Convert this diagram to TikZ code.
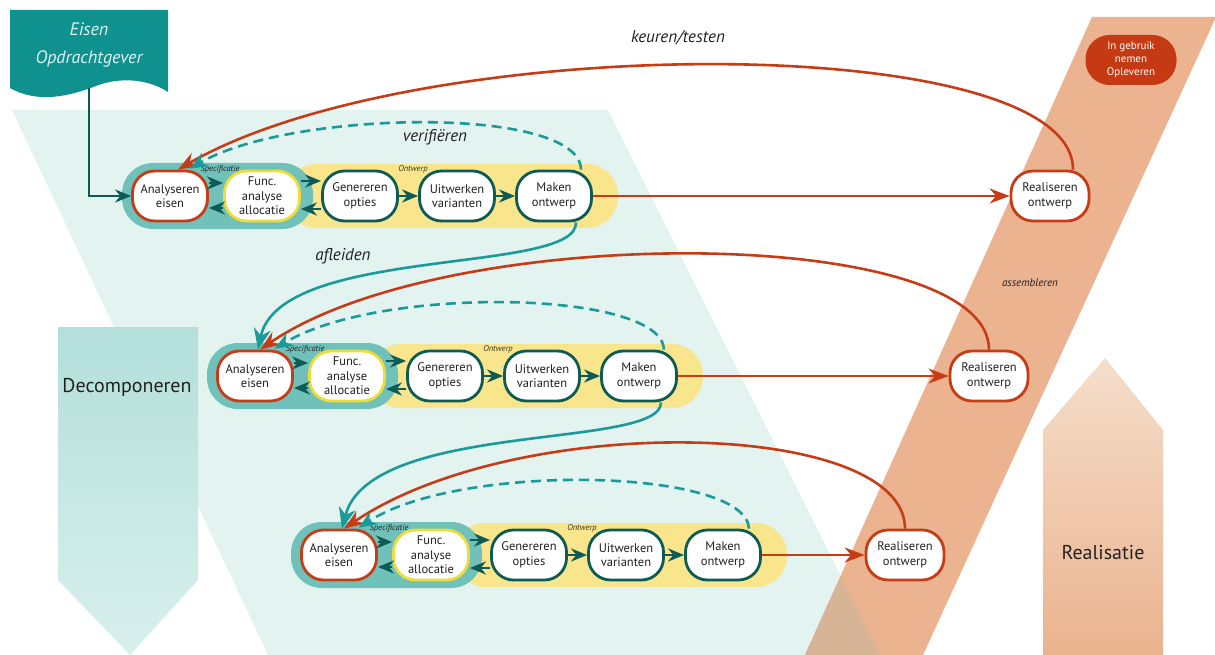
\documentclass[tikz,border=0pt]{standalone}
\usepackage{fontspec}
\setmainfont{PT Sans}
\usetikzlibrary{arrows.meta,calc}

\definecolor{tealdark}{HTML}{0E5A55}
\definecolor{tealmid}{HTML}{1A9A98}
\definecolor{tealdoc}{HTML}{0F918F}
\definecolor{redline}{HTML}{C63C16}
\definecolor{funcyellow}{HTML}{EFDC3A}
\definecolor{specfill}{HTML}{70C1BA}
\definecolor{ontfill}{HTML}{F8E58C}
\definecolor{decbg}{HTML}{E2F3F0}
\definecolor{band}{HTML}{EBB390}
\definecolor{bandover}{HTML}{D8B497}
\definecolor{deliver}{HTML}{C53A12}
\definecolor{txt}{HTML}{222222}
\definecolor{dectop}{HTML}{B3DFDA}
\definecolor{decbot}{HTML}{D9F0ED}
\definecolor{realtop}{HTML}{F5DECB}
\definecolor{realbot}{HTML}{EAB38F}

\pgfdeclarelayer{bg}
\pgfdeclarelayer{grp}
\pgfsetlayers{bg,grp,main}

\tikzset{
  proc/.style={draw=tealdark, line width=2.8pt, fill=white, rounded corners=22pt,
    minimum width=75pt, minimum height=50pt, align=center, inner sep=0pt,
    text=txt, font=\fontsize{12.5}{14.5}\selectfont},
  anal/.style={proc, draw=redline},
  func/.style={proc, draw=funcyellow},
  real/.style={proc, draw=redline, minimum width=78pt},
  tarrow/.style={draw=tealdark, line width=2.6pt, -{Stealth[length=16pt,width=13pt]}},
  rarrow/.style={draw=redline, line width=2.6pt, -{Stealth[length=20pt,width=15pt]}},
  derive/.style={draw=tealmid, line width=2.6pt, -{Stealth[length=21pt,width=17pt]}},
  verify/.style={draw=tealmid, line width=2.6pt, dash pattern=on 10pt off 6pt,
    -{Stealth[length=18pt,width=15pt]}},
  grouplabel/.style={font=\fontsize{8.5}{9}\selectfont\itshape, text=txt},
  phase/.style={font=\fontsize{17}{20}\selectfont\itshape, text=txt},
}

% one design level: specification and design group with its five steps
\newcommand{\designrow}[3]{%
  \begin{pgfonlayer}{grp}
    \fill[ontfill, rounded corners=31pt] (#2+115,#3-32) rectangle (#2+448,#3+32);
    \fill[specfill, rounded corners=31pt] (#2-48,#3-33) rectangle (#2+143,#3+33);
  \end{pgfonlayer}
  \node[grouplabel] (#1spec) at (#2+50,#3-27) {Specificatie};
  \node[grouplabel, text=black!75!ontfill] (#1ont) at (#2+243,#3-27) {Ontwerp};
  \node[anal] (#1a) at (#2,#3) {Analyseren\\eisen};
  \node[func] (#1f) at (#2+92,#3) {Func.\\analyse\\allocatie};
  \node[proc] (#1g) at (#2+190,#3) {Genereren\\opties};
  \node[proc] (#1u) at (#2+287,#3) {Uitwerken\\varianten};
  \node[proc] (#1m) at (#2+384,#3) {Maken\\ontwerp};
  \draw[tarrow] ([yshift=13pt]#1a.east) -- ([yshift=13pt]#1f.west);
  \draw[tarrow] ([yshift=-12pt]#1f.west) -- ([yshift=-12pt]#1a.east);
  \draw[tarrow] ([yshift=15pt]#1f.east) -- ([yshift=15pt]#1g.west);
  \draw[tarrow] ([yshift=-13pt]#1g.west) -- ([yshift=-13pt]#1f.east);
  \draw[tarrow] (#1g) -- (#1u);
  \draw[tarrow] (#1u) -- (#1m);
}

\begin{document}
\begin{tikzpicture}[x=1pt,y=-1pt]
\useasboundingbox (0,0) rectangle (1215,655);

% ---------- background areas ----------
\begin{pgfonlayer}{bg}
  \fill[white] (0,0) rectangle (1215,655);
  % decomposition field
  \fill[decbg] (12,110) -- (608,110) -- (880,655) -- (268,655) -- cycle;
  % realisation band
  \fill[band] (1092,17) -- (1216,17) -- (923,655) -- (805,655) -- cycle;
  \begin{scope}
    \clip (12,110) -- (608,110) -- (880,655) -- (268,655) -- cycle;
    \fill[bandover] (1092,17) -- (1216,17) -- (923,655) -- (805,655) -- cycle;
  \end{scope}
  % big direction arrows
  \shade[top color=dectop, bottom color=decbot]
    (58,327) -- (198,327) -- (198,580) -- (130,655) -- (58,580) -- cycle;
  \shade[top color=realtop, bottom color=realbot]
    (1043,655) -- (1043,430) -- (1105,358) -- (1163,430) -- (1163,655) -- cycle;
  % requirements document
  \fill[tealdoc] (10,10) -- (168,10) -- (168,92)
    .. controls (150,80) and (122,76) .. (96,86)
    .. controls (70,96) and (38,104) .. (10,88) -- cycle;
\end{pgfonlayer}

\node[font=\fontsize{20}{24}\selectfont, text=txt] (decomp) at (127,387) {Decomponeren};
\node[font=\fontsize{20}{24}\selectfont, text=txt] (realis) at (1103,553) {Realisatie};
\node[font=\fontsize{18}{28}\selectfont\itshape, text=white!88!tealdoc, align=center]
  (eisen) at (89,45) {Eisen\\Opdrachtgever};
\coordinate (eisenfoot) at (89,88);

% ---------- design levels ----------
\designrow{r1}{170}{196}
\designrow{r2}{255}{376}
\designrow{r3}{339}{555}

% ---------- realisation steps ----------
\node[real] (R1) at (1050,196) {Realiseren\\ontwerp};
\node[real] (R2) at (989,376) {Realiseren\\ontwerp};
\node[real] (R3) at (905,555) {Realiseren\\ontwerp};
\node[fill=deliver, rounded corners=24pt, minimum width=91pt, minimum height=50pt,
  align=center, inner sep=0pt, text=white, font=\fontsize{11}{13}\selectfont]
  (use) at (1131,60) {In gebruik\\nemen\\Opleveren};

% ---------- connectors ----------
\draw[tarrow] (eisenfoot) |- (r1a.west);

\draw[rarrow] (r1m.east) -- (R1.west);
\draw[rarrow] (r2m.east) -- (R2.west);
\draw[rarrow] (r3m.east) -- (R3.west);

% keuren/testen
\draw[rarrow] ([xshift=23pt]R1.north) .. controls (1073,30) and (420,30) .. ([xshift=8pt]r1a.north);
\draw[rarrow] (R2.north) .. controls (989,225) and (450,220) .. ([xshift=5pt]r2a.north);
\draw[rarrow] (R3.north) .. controls (905,420) and (520,410) .. ([xshift=5pt]r3a.north);

% verifieren
\draw[verify] ([xshift=27pt]r1m.north) .. controls (580,105) and (290,110) .. ([xshift=20pt,yshift=1pt]r1a.north);
\draw[verify] ([xshift=25pt]r2m.north) .. controls (662,290) and (380,285) .. ([xshift=20pt,yshift=1pt]r2a.north);
\draw[verify] ([xshift=26pt]r3m.north) .. controls (746,468) and (460,462) .. ([xshift=20pt,yshift=1pt]r3a.north);

% afleiden
\draw[derive] ([xshift=22pt]r1m.south) .. controls (578,275) and (280,245) .. ([xshift=3pt]r2a.north);
\draw[derive] ([xshift=22pt]r2m.south) .. controls (662,450) and (370,420) .. ([xshift=3pt]r3a.north);

% ---------- phase labels ----------
\node[phase] (lkeur) at (678,38) {keuren/testen};
\node[phase] (lverif) at (435,137) {verifiëren};
\node[phase] (lafl) at (343,256) {afleiden};
\node[font=\fontsize{11}{13}\selectfont\itshape, text=txt] (lass) at (1030,283) {assembleren};

\end{tikzpicture}
\end{document}
